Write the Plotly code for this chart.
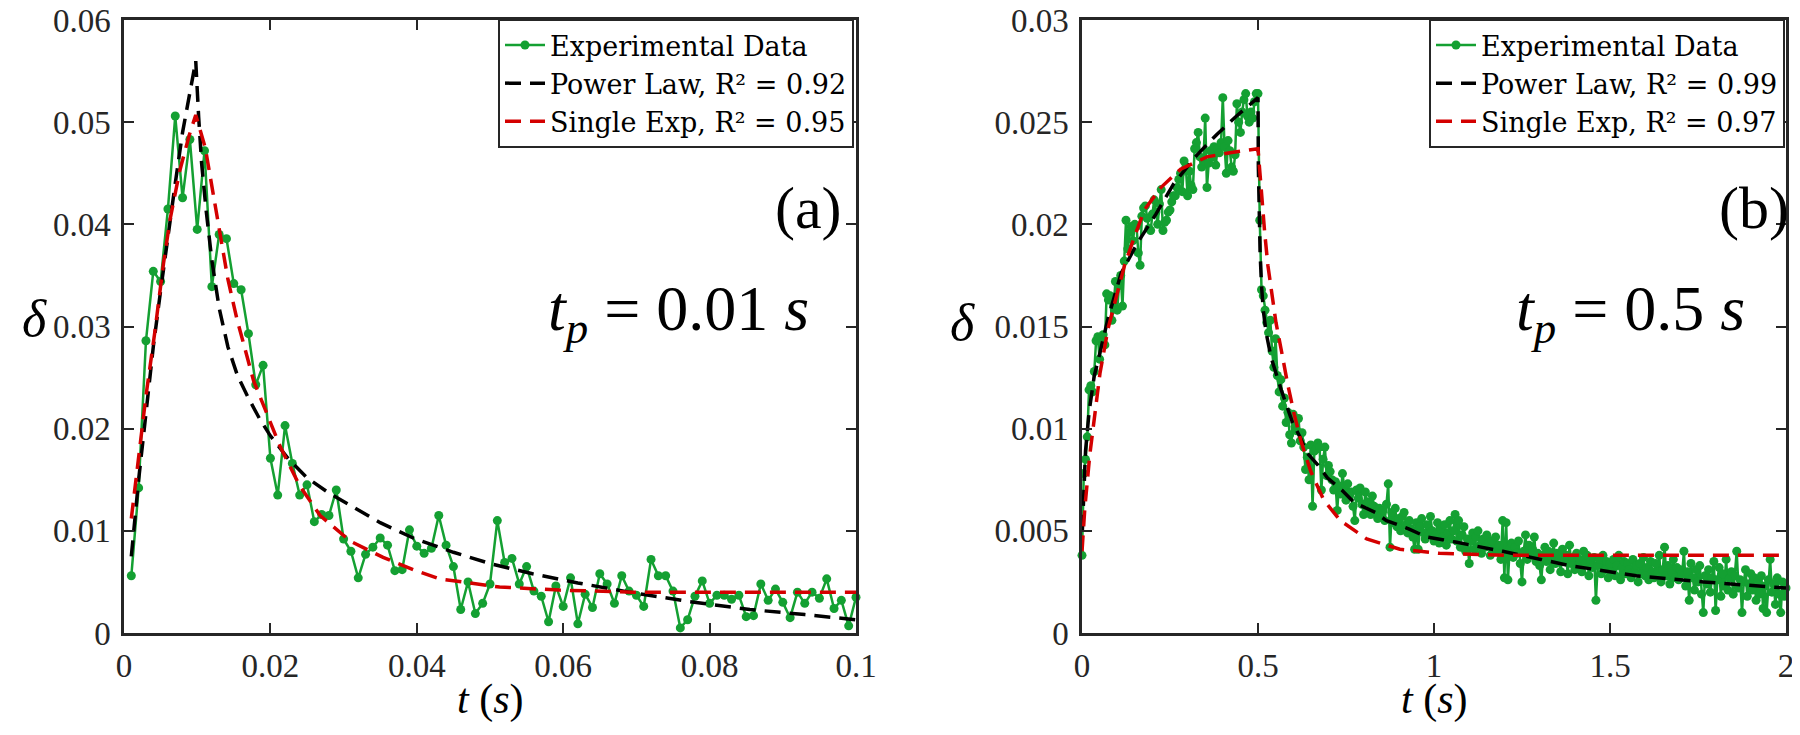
import plotly.graph_objects as go

# ---------------- Panel (a) data : t_p = 0.01 s ----------------
t_a = [round(0.001 * i, 3) for i in range(1, 101)]
exp_a = [
    0.0056, 0.0142, 0.0286, 0.0354, 0.0344, 0.0415, 0.0506, 0.0426, 0.0483, 0.0395,
    0.0472, 0.0339, 0.0390, 0.0386, 0.0342, 0.0336, 0.0293, 0.0243, 0.0262, 0.0171,
    0.0135, 0.0203, 0.0166, 0.0135, 0.0145, 0.0109, 0.0116, 0.0115, 0.0140, 0.0092,
    0.0080, 0.0054, 0.0077, 0.0084, 0.0093, 0.0086, 0.0061, 0.0062, 0.0101, 0.0085,
    0.0078, 0.0083, 0.0115, 0.0086, 0.0065, 0.0023, 0.0050, 0.0019, 0.0029, 0.0048,
    0.0110, 0.0069, 0.0073, 0.0048, 0.0065, 0.0041, 0.0036, 0.0011, 0.0046, 0.0026,
    0.0054, 0.0009, 0.0038, 0.0025, 0.0058, 0.0048, 0.0029, 0.0056, 0.0041, 0.0037,
    0.0026, 0.0072, 0.0056, 0.0056, 0.0041, 0.0005, 0.0013, 0.0036, 0.0051, 0.0029,
    0.0037, 0.0037, 0.0033, 0.0037, 0.0016, 0.0017, 0.0048, 0.0032, 0.0043, 0.0030,
    0.0015, 0.0040, 0.0029, 0.0040, 0.0034, 0.0053, 0.0024, 0.0032, 0.0007, 0.0035,
]
pl_a_t = [0.001, 0.002, 0.003, 0.004, 0.005, 0.006, 0.007, 0.008, 0.009, 0.0098,
          0.0102, 0.0106, 0.0112, 0.0120, 0.0130, 0.0142, 0.0155, 0.0170, 0.0185, 0.020,
          0.0225, 0.025, 0.028, 0.0313, 0.035, 0.0395, 0.045, 0.050, 0.0558, 0.062,
          0.069, 0.077, 0.0855, 0.093, 0.100]
pl_a_d = [0.0075, 0.0150, 0.0215, 0.0280, 0.0335, 0.0390, 0.0440, 0.0490, 0.0530, 0.0560,
          0.0505, 0.0460, 0.0415, 0.0365, 0.0318, 0.0280, 0.0252, 0.0230, 0.0210, 0.0193,
          0.0170, 0.0152, 0.0137, 0.0123, 0.0108, 0.0093, 0.0079, 0.0068, 0.0058, 0.0049,
          0.0040, 0.0031, 0.0023, 0.0018, 0.0013]
se_a_t = [0.001, 0.002, 0.003, 0.0042, 0.0054, 0.0063, 0.0076, 0.0089, 0.0098,
          0.0111, 0.0122, 0.0133, 0.0142, 0.0154, 0.0177, 0.0195, 0.0213, 0.024, 0.0268,
          0.0309, 0.0354, 0.0395, 0.0431, 0.0513, 0.0595, 0.0695, 0.080, 0.090, 0.100]
se_a_d = [0.0112, 0.0172, 0.0232, 0.0294, 0.0362, 0.0405, 0.0452, 0.0487, 0.0507,
          0.0475, 0.0430, 0.0385, 0.0346, 0.0308, 0.0247, 0.0215, 0.0183, 0.0144, 0.0115,
          0.0090, 0.0074, 0.0062, 0.0053, 0.0045, 0.0042, 0.0040, 0.0040, 0.0040, 0.0040]

# ---------------- Panel (b) data : t_p = 0.5 s ----------------
t_b = [round(0.005 * i, 3) for i in range(401)]
exp_b = [
    # 0.000 - 0.500
    0.0038, 0.0078, 0.0085, 0.0096, 0.0119, 0.0121, 0.0118, 0.0128, 0.0143, 0.0145,
    0.0134, 0.0144, 0.0146, 0.0141, 0.0166, 0.0163, 0.0165, 0.0153, 0.0160, 0.0172,
    0.0158, 0.0170, 0.0175, 0.0160, 0.0182, 0.0202, 0.0188, 0.0196, 0.0199, 0.0192,
    0.0200, 0.0199, 0.0186, 0.0180, 0.0204, 0.0208, 0.0209, 0.0203, 0.0198, 0.0197,
    0.0205, 0.0212, 0.0206, 0.0200, 0.0210, 0.0217, 0.0197, 0.0201, 0.0202, 0.0206,
    0.0207, 0.0211, 0.0214, 0.0214, 0.0218, 0.0222, 0.0225, 0.0216, 0.0231, 0.0228,
    0.0214, 0.0226, 0.0219, 0.0217, 0.0237, 0.0240, 0.0245, 0.0233, 0.0228, 0.0231,
    0.0252, 0.0218, 0.0230, 0.0236, 0.0233, 0.0238, 0.0229, 0.0237, 0.0235, 0.0240,
    0.0262, 0.0238, 0.0225, 0.0241, 0.0236, 0.0228, 0.0226, 0.0234, 0.0259, 0.0250,
    0.0245, 0.0255, 0.0261, 0.0264, 0.0253, 0.0250, 0.0255, 0.0252, 0.0260, 0.0264,
    0.0264,
    # 0.505 - 2.000
    0.0202, 0.0168, 0.0165, 0.0158, 0.0152, 0.0147, 0.0153, 0.0138, 0.0130, 0.0144,
    0.0126, 0.0118, 0.0124, 0.0111, 0.0115, 0.0103, 0.0108, 0.0097, 0.0093, 0.0107,
    0.0101, 0.0099, 0.0105, 0.0094, 0.0098, 0.0091, 0.0080, 0.0086, 0.0075, 0.0092,
    0.0062, 0.0089, 0.0090, 0.0093, 0.0091, 0.0070, 0.0085, 0.0091, 0.0077, 0.0082,
    0.0079, 0.0075, 0.0070, 0.0074, 0.0060, 0.0072, 0.0068, 0.0078, 0.0071, 0.0065,
    0.0073, 0.0067, 0.0069, 0.0062, 0.0055, 0.0070, 0.0066, 0.0071, 0.0063, 0.0058,
    0.0069, 0.0064, 0.0060, 0.0058, 0.0067, 0.0062, 0.0059, 0.0056, 0.0061, 0.0057,
    0.0060, 0.0055, 0.0063, 0.0073, 0.0042, 0.0059, 0.0054, 0.0061, 0.0052, 0.0056,
    0.0050, 0.0057, 0.0059, 0.0053, 0.0049, 0.0055, 0.0051, 0.0047, 0.0041, 0.0054,
    0.0041, 0.0052, 0.0056, 0.0049, 0.0046, 0.0053, 0.0048, 0.0057, 0.0050, 0.0045,
    0.0048, 0.0054, 0.0044, 0.0051, 0.0047, 0.0053, 0.0043, 0.0049, 0.0055, 0.0046,
    0.0050, 0.0058, 0.0045, 0.0055, 0.0042, 0.0048, 0.0052, 0.0040, 0.0046, 0.0034,
    0.0045, 0.0049, 0.0041, 0.0047, 0.0050, 0.0043, 0.0039, 0.0046, 0.0042, 0.0048,
    0.0044, 0.0038, 0.0045, 0.0041, 0.0047, 0.0040, 0.0043, 0.0036, 0.0055, 0.0027,
    0.0054, 0.0026, 0.0041, 0.0044, 0.0037, 0.0042, 0.0039, 0.0045, 0.0034, 0.0025,
    0.0040, 0.0048, 0.0036, 0.0043, 0.0038, 0.0041, 0.0047, 0.0035, 0.0039, 0.0033,
    0.0026, 0.0038, 0.0042, 0.0035, 0.0040, 0.0031, 0.0037, 0.0044, 0.0034, 0.0039,
    0.0036, 0.0030, 0.0041, 0.0035, 0.0038, 0.0029, 0.0043, 0.0034, 0.0037, 0.0031,
    0.0039, 0.0033, 0.0036, 0.0030, 0.0040, 0.0034, 0.0038, 0.0028, 0.0035, 0.0032,
    0.0037, 0.0016, 0.0033, 0.0036, 0.0029, 0.0038, 0.0031, 0.0035, 0.0027, 0.0034,
    0.0030, 0.0036, 0.0028, 0.0033, 0.0038, 0.0026, 0.0032, 0.0035, 0.0029, 0.0034,
    0.0031, 0.0027, 0.0036, 0.0030, 0.0033, 0.0025, 0.0034, 0.0029, 0.0037, 0.0028,
    0.0032, 0.0026, 0.0035, 0.0030, 0.0027, 0.0034, 0.0029, 0.0038, 0.0025, 0.0031,
    0.0042, 0.0028, 0.0033, 0.0024, 0.0030, 0.0036, 0.0027, 0.0032, 0.0026, 0.0031,
    0.0029, 0.0040, 0.0023, 0.0030, 0.0016, 0.0034, 0.0027, 0.0021, 0.0031, 0.0025,
    0.0033, 0.0019, 0.0010, 0.0028, 0.0024, 0.0031, 0.0020, 0.0027, 0.0035, 0.0011,
    0.0026, 0.0032, 0.0018, 0.0029, 0.0023, 0.0036, 0.0021, 0.0027, 0.0030, 0.0019,
    0.0028, 0.0040, 0.0022, 0.0026, 0.0010, 0.0025, 0.0031, 0.0018, 0.0024, 0.0029,
    0.0021, 0.0027, 0.0016, 0.0025, 0.0019, 0.0028, 0.0012, 0.0023, 0.0010, 0.0026,
    0.0036, 0.0020, 0.0024, 0.0014, 0.0027, 0.0019, 0.0010, 0.0025, 0.0018, 0.0022,
]
pl_b_t = [0.001, 0.005, 0.010, 0.020, 0.035, 0.048, 0.074, 0.111, 0.158, 0.210,
          0.261, 0.327, 0.383, 0.439, 0.500, 0.501, 0.503, 0.506, 0.510, 0.515,
          0.523, 0.537, 0.566, 0.598, 0.619, 0.640, 0.671, 0.697, 0.738, 0.772,
          0.833, 0.865, 0.928, 0.978, 1.061, 1.195, 1.385, 1.575, 1.766, 1.966, 2.000]
pl_b_d = [0.0050, 0.0072, 0.0089, 0.0108, 0.0126, 0.0135, 0.0154, 0.0176, 0.0191, 0.0205,
          0.0220, 0.0234, 0.0244, 0.0253, 0.0262, 0.0228, 0.0205, 0.0186, 0.0170, 0.0158,
          0.0147, 0.0135, 0.0119, 0.0103, 0.0096, 0.0088, 0.0082, 0.0076, 0.0070, 0.0064,
          0.0059, 0.0055, 0.0051, 0.0047, 0.00445, 0.0040, 0.0033, 0.0028, 0.0025, 0.00226, 0.0022]
se_b_t = [0.000, 0.008, 0.022, 0.037, 0.051, 0.074, 0.097, 0.121, 0.149, 0.177,
          0.224, 0.280, 0.355, 0.420, 0.500, 0.509, 0.519, 0.528, 0.551, 0.570,
          0.584, 0.603, 0.622, 0.650, 0.687, 0.734, 0.809, 0.903, 1.015, 1.200, 2.000]
se_b_d = [0.0040, 0.0061, 0.0087, 0.0107, 0.0127, 0.0149, 0.0164, 0.0180, 0.0194, 0.0207,
          0.0218, 0.0227, 0.0233, 0.0235, 0.0237, 0.0216, 0.0196, 0.0180, 0.0152, 0.0135,
          0.0122, 0.0107, 0.0094, 0.0079, 0.0065, 0.0055, 0.0046, 0.0041, 0.0039, 0.0038, 0.0038]

names_a = ["Experimental Data", "Power Law, R² = 0.92", "Single Exp, R² = 0.95"]
names_b = ["Experimental Data", "Power Law, R² = 0.99", "Single Exp, R² = 0.97"]
xt_a = [0, 0.02, 0.04, 0.06, 0.08, 0.1]
yt_a = [0, 0.01, 0.02, 0.03, 0.04, 0.05, 0.06]
xt_b = [0, 0.5, 1, 1.5, 2]
yt_b = [0, 0.005, 0.01, 0.015, 0.02, 0.025, 0.03]

GREEN = "#14a032"
RED = "#d40000"
BLACK = "#000000"
AX = "#262626"
FONT = "'Times New Roman', 'Liberation Serif', serif"
LFONT = "'DejaVu Serif', 'Liberation Serif', serif"

# the page body has an 8 px margin; size the figure so the page needs no scrollbars
OFF = 8
W, H = 1800 - 2 * OFF, 735 - 2 * OFF


def px(x):
    return (x - OFF) / W


def py(y):
    return 1 - (y - OFF) / H


TOP, BOT = 20, 633

fig = go.Figure()


def add_panel(t, d, plt_, pld, set_, sed, names, xa, ya, leg):
    fig.add_trace(go.Scatter(x=t, y=d, mode="lines+markers", name=names[0],
                             line=dict(color=GREEN, width=2.5),
                             marker=dict(color=GREEN, size=9),
                             xaxis=xa, yaxis=ya, legend=leg, cliponaxis=False))
    fig.add_trace(go.Scatter(x=plt_, y=pld, mode="lines", name=names[1],
                             line=dict(color=BLACK, width=3.5, dash="16px,9px"),
                             xaxis=xa, yaxis=ya, legend=leg))
    fig.add_trace(go.Scatter(x=set_, y=sed, mode="lines", name=names[2],
                             line=dict(color=RED, width=3.5, dash="16px,9px"),
                             xaxis=xa, yaxis=ya, legend=leg))


add_panel(t_a, exp_a, pl_a_t, pl_a_d, se_a_t, se_a_d, names_a, "x", "y", "legend")
add_panel(t_b, exp_b, pl_b_t, pl_b_d, se_b_t, se_b_d, names_b, "x2", "y2", "legend2")

ax_common = dict(showline=True, linecolor=AX, linewidth=2.5, mirror="ticks",
                 ticks="inside", ticklen=10, tickwidth=2, tickcolor=AX,
                 showgrid=False, zeroline=False, ticklabeloverflow="allow",
                 automargin=False,
                 tickfont=dict(family=FONT, size=33, color=AX))

legend_common = dict(bgcolor="white", bordercolor=AX, borderwidth=2,
                     font=dict(family=LFONT, size=27, color="black"),
                     xanchor="right", yanchor="top", tracegroupgap=0,
                     itemwidth=40)

fig.update_layout(
    width=W, height=H,
    margin=dict(l=0, r=0, t=0, b=0, autoexpand=False),
    paper_bgcolor="white", plot_bgcolor="white",
    xaxis=dict(domain=[px(124), px(856)], range=[0, 0.1000001], tickvals=xt_a,
               ticktext=[str(v) for v in xt_a], ticklabelstandoff=2, **ax_common),
    yaxis=dict(domain=[py(BOT), py(TOP)], range=[0, 0.0600001], tickvals=yt_a,
               ticktext=[str(v) for v in yt_a], ticklabelstandoff=4, **ax_common),
    xaxis2=dict(domain=[px(1082), px(1786)], range=[0, 2.000001], anchor="y2", tickvals=xt_b,
                ticktext=[str(v) for v in xt_b], ticklabelstandoff=2, **ax_common),
    yaxis2=dict(domain=[py(BOT), py(TOP)], range=[0, 0.0300001], anchor="x2", tickvals=yt_b,
                ticktext=[str(v) for v in yt_b], ticklabelstandoff=4, **ax_common),
    legend=dict(x=px(854), y=py(19), **legend_common),
    legend2=dict(x=px(1785), y=py(19), **legend_common),
    showlegend=True,
)


def ann(text, x, y, size):
    fig.add_annotation(text=text, x=px(x), y=py(y), xref="paper", yref="paper",
                       showarrow=False, xanchor="center", yanchor="middle",
                       font=dict(family=FONT, size=size, color="black"))


ann("<i>δ</i>", 34, 318, 52)
ann("<i>δ</i>", 962, 322, 52)
ann("<i>t</i> (<i>s</i>)", 490, 699, 42)
ann("<i>t</i> (<i>s</i>)", 1434, 699, 42)
ann("(a)", 808, 208, 60)
ann("(b)", 1754, 208, 60)
ann("<i>t<sub>p</sub></i> = 0.01 <i>s</i>", 678, 313, 64)
ann("<i>t<sub>p</sub></i> = 0.5 <i>s</i>", 1630, 313, 64)

fig.write_html("out.html")
